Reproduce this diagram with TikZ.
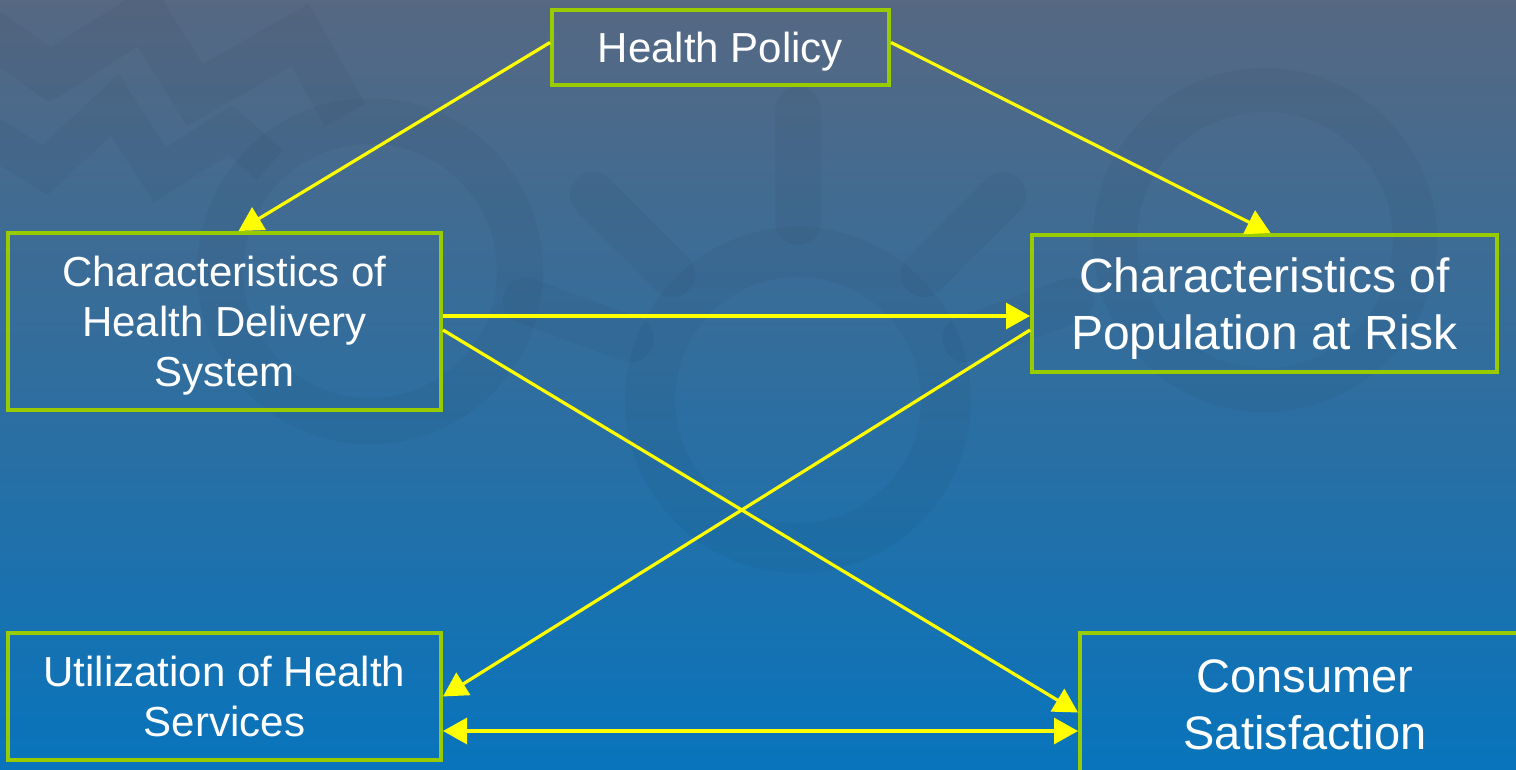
\documentclass[tikz,border=0pt]{standalone}
\usepackage{fontspec}
\setmainfont{Liberation Sans}
\usetikzlibrary{arrows.meta}
\definecolor{boxgreen}{RGB}{153,204,0}
\definecolor{linkyellow}{RGB}{255,255,0}
\definecolor{bgtop}{RGB}{86,104,130}
\definecolor{bgmid}{RGB}{52,118,172}
\definecolor{bgbottom}{RGB}{8,116,188}

\begin{document}
\begin{tikzpicture}[x=0.5pt,y=-0.5pt,
>={Triangle[length=12pt,width=13pt]},
box/.style={%
draw=boxgreen,
line width=2pt,
text=white,
align=center,
inner sep=0pt,
text depth=0pt,
font=\fontsize{21}{25}\selectfont,
},
bigbox/.style={%
box,
font=\fontsize{24}{28.5}\selectfont,
},
link/.style={%
draw=linkyellow,
line width=1.6pt,
->,
},
deco/.style={%
draw=black,
opacity=0.03,
},
]
%% Background
\clip (0,0) rectangle (1516,770);
\shade[top color=bgtop,middle color=bgmid,bottom color=bgbottom] (0,0) rectangle (1516,770);
\draw[deco,line width=23pt,line join=miter] (-20,25)--(50,75)--(145,15)--(195,95)--(300,35)--(345,115);
\draw[deco,line width=20pt,line join=miter] (-20,130)--(45,170)--(115,105)--(160,175)--(230,130)--(270,165);
\draw[deco,line width=23pt] (370,271) circle (150);
\draw[deco,line width=25pt] (798,400) circle (148);
\foreach \a in {-90,-45,-135,-160,-20}{%
\draw[deco,line width=23pt,line cap=round] ([shift={(\a:178)}]798,400)--([shift={(\a:290)}]798,400);
}
\draw[deco,line width=22pt] (1265,240) circle (150);
%% Boxes
\node[box,minimum width=168.5pt,minimum height=37.5pt] (policy) at (720.5,47.5) {Health Policy};
\node[box,minimum width=216.5pt,minimum height=88.5pt] (delivery) at (224.5,321.5) {Characteristics of\\Health Delivery\\System};
\node[bigbox,minimum width=232.5pt,minimum height=68.5pt] (population) at (1264.5,303.5) {Characteristics of\\Population at Risk};
\node[box,minimum width=216.5pt,minimum height=63.5pt] (utilization) at (224.5,696.5) {Utilization of Health\\Services};
\node[box,font=\fontsize{23.5}{28.5}\selectfont,minimum width=225pt,minimum height=71.5pt] (satisfaction) at (1305,704.5) {Consumer\\Satisfaction};
%% Links
\draw[link] ([yshift=2.5pt]policy.west) -- ([xshift=7pt]delivery.north);
\draw[link] ([yshift=2.5pt]policy.east) -- ([xshift=3pt]population.north);
\draw[link] ([yshift=2.75pt]delivery.east) -- ([yshift=-6.25pt]population.west);
\draw[link] ([yshift=-4.25pt]delivery.east) -- ([yshift=-4pt]satisfaction.west);
\draw[link] ([yshift=-13.25pt]population.west) -- (utilization.east);
\draw[link,<->] ([yshift=-17.25pt]utilization.east) -- ([yshift=-13.25pt]satisfaction.west);
\end{tikzpicture}
\end{document}
